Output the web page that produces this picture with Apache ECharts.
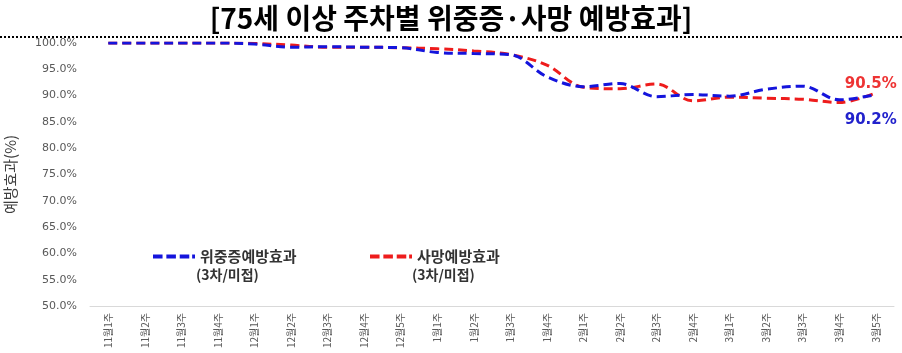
<!DOCTYPE html>
<html><head><meta charset="utf-8">
<script src="https://cdn.jsdelivr.net/npm/echarts@6/dist/echarts.min.js"></script>
<style>html,body{margin:0;padding:0;background:#fff}#c{width:902px;height:353px}</style>
</head><body><div id="c"></div>
<script>
const titleText = '[75세 이상 주차별 위중증·사망 예방효과]';
const categories = ['11월1주','11월2주','11월3주','11월4주','12월1주','12월2주','12월3주','12월4주','12월5주','1월1주','1월2주','1월3주','1월4주','2월1주','2월2주','2월3주','2월4주','3월1주','3월2주','3월3주','3월4주','3월5주'];
const severeName = '위중증예방효과';
const deathName = '사망예방효과';
const subNote = '(3차/미접)';
const severe = [100,100,100,100,99.8,99.2,99.3,99.2,99.1,98.2,98.0,97.8,93.6,91.7,92.3,89.8,90.2,89.9,91.2,91.8,89.2,90.2];
const death  = [100,100,100,100,99.9,99.6,99.2,99.2,99.1,98.9,98.5,97.8,95.8,91.6,91.3,92.2,89.0,89.7,89.5,89.3,88.7,90.5];
const yMin = 50, yMax = 100, yStep = 5;
const yName = '예방효과(%)';

const chart = echarts.init(document.getElementById('c'));
const KR = '"Noto Sans CJK KR", "DejaVu Sans", sans-serif';
const dashIcon = 'path://M0,0h10v4h-10z M14,0h10v4h-10z M28,0h10v4h-10z M41,0h3v4h-3z';
function lastLabel(color, pos, dist, off){
  return {
    show: true, position: pos, distance: dist, offset: off,
    formatter: p => p.dataIndex === categories.length - 1 ? Number(p.value).toFixed(1) + '%' : '',
    color: color, fontWeight: 'bold', fontSize: 15, fontFamily: '"DejaVu Sans", sans-serif'
  };
}
const legendText = { fontFamily: KR, fontWeight: 'bold', fontSize: 15, color: '#333' };
chart.setOption({
  animation: false,
  title: { text: titleText, left: 'center', top: -1,
    textStyle: { fontFamily: KR, fontWeight: 'bold', fontSize: 28, color: '#000' } },
  grid: { left: 90, right: 8, top: 43, bottom: 47, outerBoundsMode: 'none', containLabel: false },
  legend: [
    { data: [{ name: severeName, icon: dashIcon, itemStyle: { color: '#1414dc' } }],
      left: 148, top: 244, itemWidth: 42, itemHeight: 4, itemGap: 3, textStyle: legendText },
    { data: [{ name: deathName, icon: dashIcon, itemStyle: { color: '#ee1c1c' } }],
      left: 365, top: 244, itemWidth: 42, itemHeight: 4, itemGap: 3, textStyle: legendText }
  ],
  graphic: [
    { type: 'line', shape: { x1: 0, y1: 37, x2: 902, y2: 37 },
      style: { stroke: '#000', lineWidth: 2, lineDash: [2, 2] } },
    { type: 'text', left: 196, top: 268, style: { text: subNote, font: 'bold 14px ' + KR, fill: '#333' } },
    { type: 'text', left: 412, top: 268, style: { text: subNote, font: 'bold 14px ' + KR, fill: '#333' } }
  ],
  xAxis: {
    type: 'category', data: categories, boundaryGap: true,
    axisLine: { lineStyle: { color: '#d9d9d9' } }, axisTick: { show: false },
    axisLabel: { rotate: 90, color: '#595959', fontSize: 10, fontFamily: KR, margin: 7 }
  },
  yAxis: {
    type: 'value', min: yMin, max: yMax, interval: yStep,
    name: yName, nameLocation: 'middle', nameRotate: 90, nameGap: 72,
    nameTextStyle: { color: '#404040', fontSize: 15, fontFamily: KR },
    axisLine: { show: false }, axisTick: { show: false }, splitLine: { show: false },
    axisLabel: { formatter: v => v.toFixed(1) + '%', color: '#595959', fontSize: 11,
      fontFamily: '"DejaVu Sans", sans-serif', margin: 13 }
  },
  series: [
    { name: severeName, type: 'line', data: severe, smooth: 0.35, symbol: 'circle', symbolSize: 0, showSymbol: true,
      lineStyle: { color: '#1414dc', width: 3, type: [9, 5] }, itemStyle: { color: '#1414dc' },
      label: lastLabel('#2222cc', 'bottom', 18, [-5, 0]), z: 3 },
    { name: deathName, type: 'line', data: death, smooth: 0.35, symbol: 'circle', symbolSize: 0, showSymbol: true,
      lineStyle: { color: '#ee1c1c', width: 3, type: [9, 5] }, itemStyle: { color: '#ee1c1c' },
      label: lastLabel('#ee3333', 'top', 1, [-5, 0]), z: 2 }
  ]
});
</script></body></html>
